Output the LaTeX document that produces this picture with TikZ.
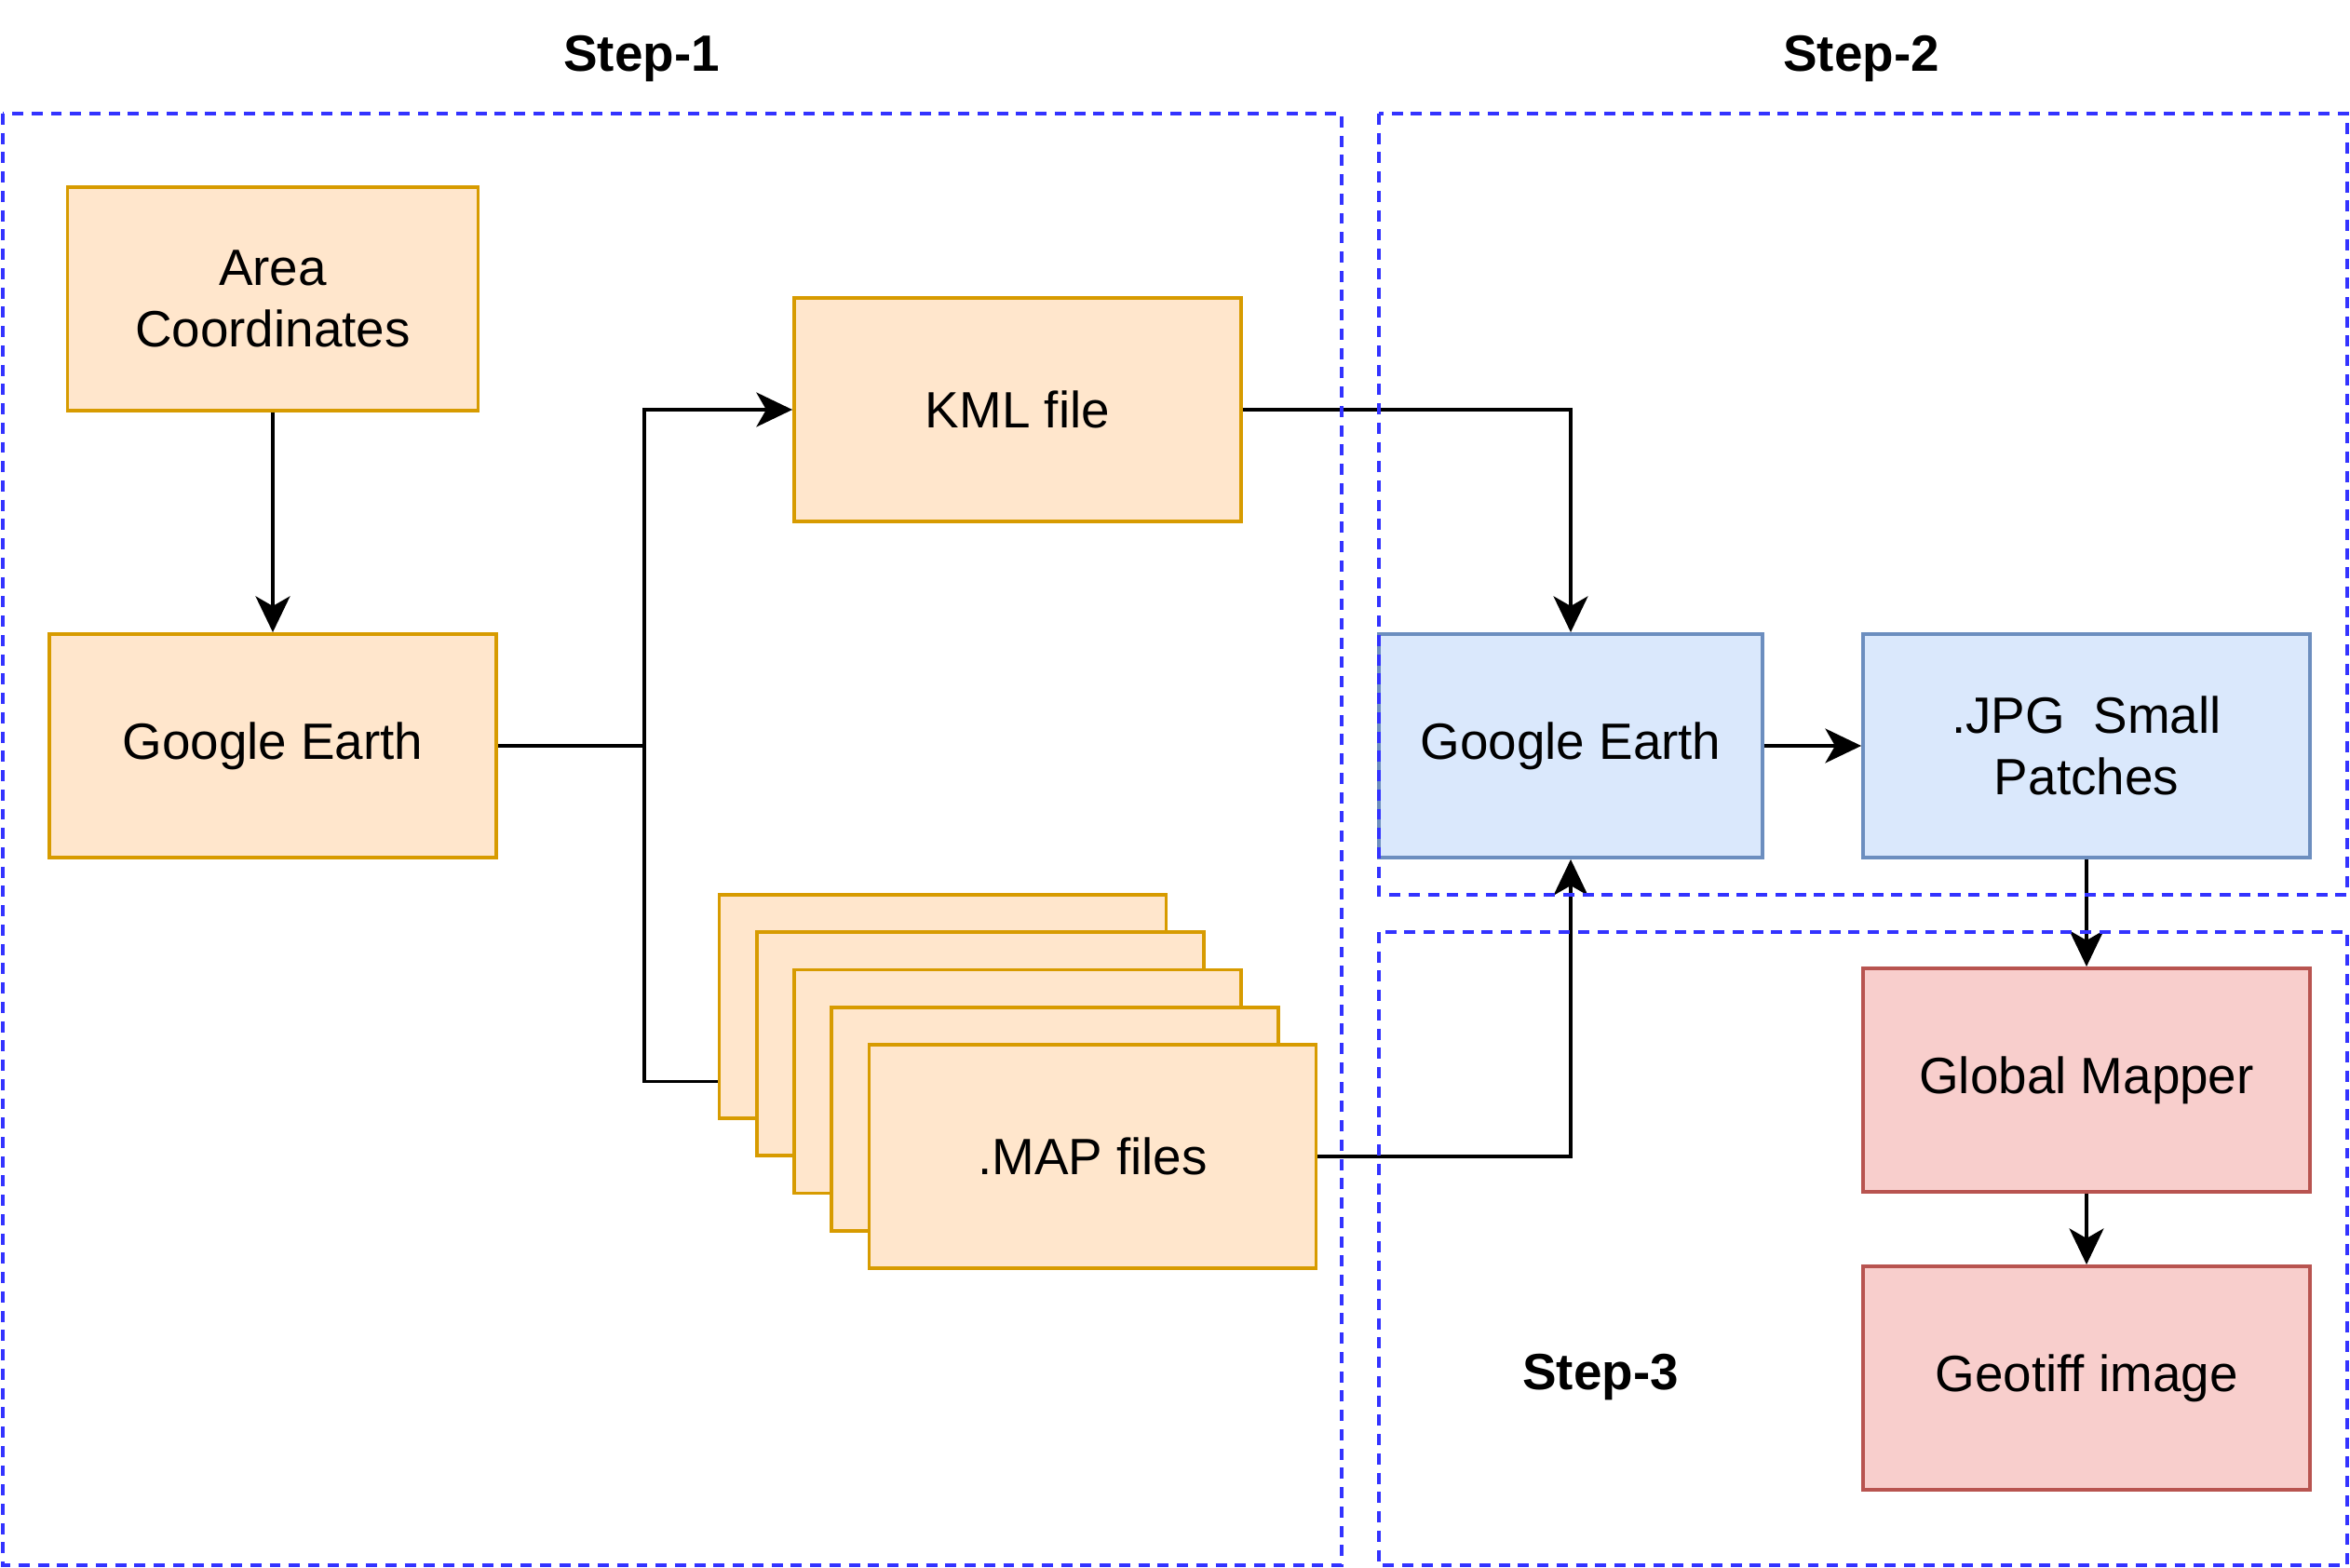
\documentclass[tikz,border=0pt]{standalone}
\usepackage{fontspec}
\setmainfont{Liberation Sans}
\usetikzlibrary{arrows.meta}
\definecolor{orfill}{HTML}{FFE6CC}
\definecolor{ordraw}{HTML}{D79B00}
\definecolor{blfill}{HTML}{DAE8FC}
\definecolor{bldraw}{HTML}{6C8EBF}
\definecolor{rdfill}{HTML}{F8CECC}
\definecolor{rddraw}{HTML}{B85450}
\definecolor{framecol}{HTML}{3333FF}
\tikzset{
  box/.style={rectangle,draw,line width=1.1pt,minimum width=4.8cm,minimum height=2.4cm,align=center,inner sep=2pt},
  orbox/.style={box,fill=orfill,draw=ordraw},
  blbox/.style={box,fill=blfill,draw=bldraw},
  rdbox/.style={box,fill=rdfill,draw=rddraw},
  frame/.style={draw=framecol,line width=1.1pt,dash pattern=on 3.4pt off 2.5pt},
  link/.style={line width=1.1pt,-{Stealth[length=11pt,width=10.5pt,inset=3pt]}}
}
\begin{document}
\begin{tikzpicture}[font=\fontsize{15.6}{19}\selectfont]
\useasboundingbox (0,0) rectangle (25.24,-16.84);

\node (t1) [font=\fontsize{15.6}{19}\selectfont\bfseries] at (6.89,-0.63) {Step-1};
\node (t2) [font=\fontsize{15.6}{19}\selectfont\bfseries] at (19.99,-0.63) {Step-2};
\node (t3) [font=\fontsize{15.6}{19}\selectfont\bfseries] at (17.19,-14.79) {Step-3};

\node (area) [orbox,minimum width=4.41cm] at (2.93,-3.21) {Area\\Coordinates};
\node (ge1) [orbox] at (2.93,-8.01) {Google Earth};
\node (kml) [orbox] at (10.93,-4.40) {KML file};
\foreach \i in {1,...,4}
  \node (map\i) [orbox] at ({10.125+0.4024*(\i-1)},{-10.81-0.4024*(\i-1)}) {};
\node (map5) [orbox] at (11.735,-12.42) {.MAP files};

\node (ge2) [blbox,minimum width=4.12cm] at (16.87,-8.01) {Google Earth};
\node (jpg) [blbox] at (22.41,-8.01) {.JPG\ \ Small\\Patches};
\node (gm) [rdbox] at (22.41,-11.60) {Global Mapper};
\node (geo) [rdbox] at (22.41,-14.80) {Geotiff image};

\coordinate (split) at (6.92,-8.01);
\draw [link] (area)--(ge1);
\draw [line width=1.1pt] (ge1.east)--(split);
\draw [link] (split) |- (kml.west);
\draw [line width=1.1pt] (split) |- (map1.west |- map3.center);
\draw [link] (kml.east) -| (ge2.north);
\draw [link] (map5.east) -| (ge2.south);
\draw [link] (ge2)--(jpg);
\draw [link] (jpg)--(gm);
\draw [link] (gm)--(geo);

% step frames
\draw [frame] (0.03,-1.22) rectangle (14.41,-16.81);
\draw [frame] (14.81,-1.22) rectangle (25.21,-9.61);
\draw [frame] (14.81,-10.01) rectangle (25.21,-16.81);
\end{tikzpicture}
\end{document}
